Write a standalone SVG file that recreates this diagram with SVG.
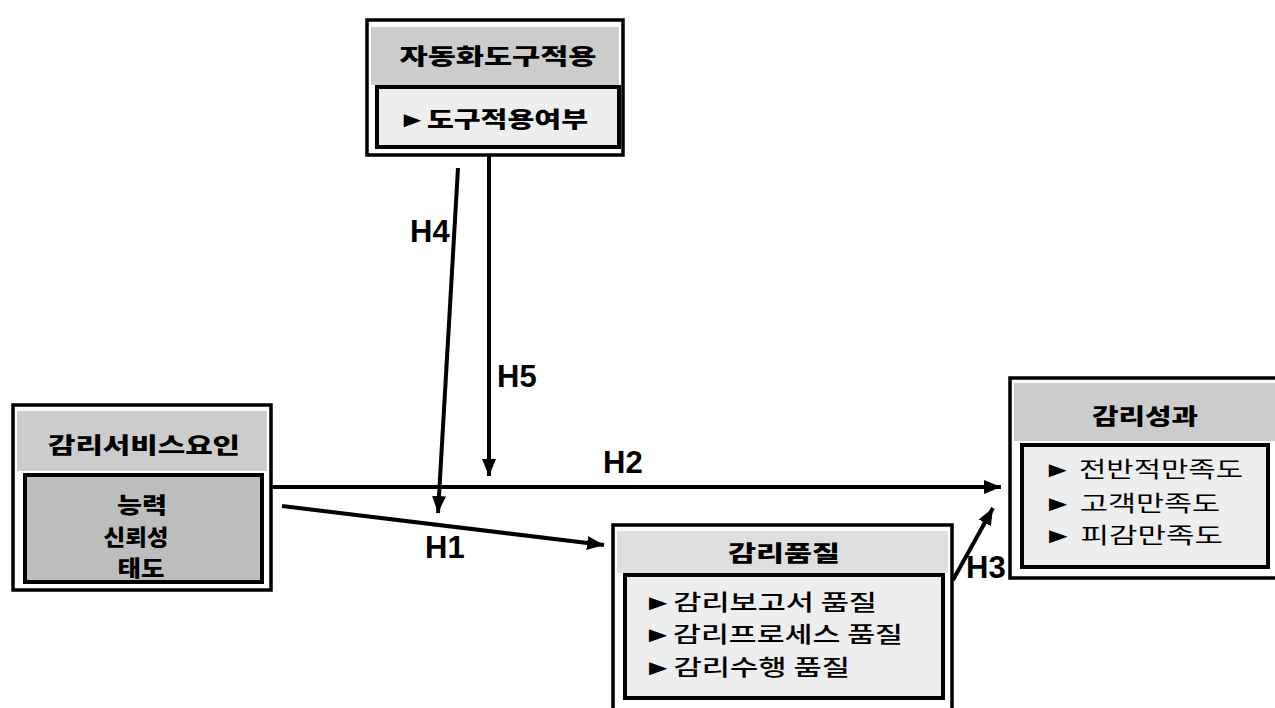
<svg xmlns="http://www.w3.org/2000/svg" width="1275" height="708" viewBox="0 0 1275 708">
  <style>
    .outer { fill: #ffffff; stroke: #000000; stroke-width: 3.5; }
    .band { fill: #cccccc; stroke: none; }
    .bandl { fill: #dedede; stroke: none; }
    .inner { fill: #eeeeee; stroke: #000000; stroke-width: 4; }
    .innerd { fill: #bdbdbd; stroke: #000000; stroke-width: 4; }
    .t { font-family: "Noto Sans CJK KR", "Noto Sans", sans-serif; font-weight: 900; font-size: 22px; fill: #000; dominant-baseline: central; }
    .tm { font-family: "Noto Sans CJK KR", "Noto Sans", sans-serif; font-weight: 500; font-size: 22px; fill: #000; dominant-baseline: central; }
    .tn { font-family: "Noto Sans CJK KR", "Noto Sans", sans-serif; font-weight: 400; font-size: 22px; fill: #000; dominant-baseline: central; }
    .h { font-family: "Liberation Sans", Arial, sans-serif; font-weight: 700; font-size: 31px; fill: #000; }
    .arr { stroke: #000; stroke-width: 4; fill: none; marker-end: url(#ah); }
  </style>
  <defs>
    <marker id="ah" markerUnits="userSpaceOnUse" markerWidth="18" markerHeight="16" refX="17" refY="8" orient="auto">
      <path d="M0,1 L17,8 L0,15 z" fill="#000"/>
    </marker>
  </defs>

  <g id="connectors">
    <line class="arr" x1="458" y1="168" x2="438" y2="513"/>
    <line class="arr" x1="489" y1="155" x2="489" y2="476"/>
    <line class="arr" x1="271" y1="487" x2="1001" y2="487"/>
    <line class="arr" x1="282" y1="506" x2="604" y2="545"/>
    <line class="arr" x1="953" y1="580" x2="993" y2="508"/>
    <text class="h" x="410" y="242">H4</text>
    <text class="h" x="497" y="387">H5</text>
    <text class="h" x="603" y="473">H2</text>
    <text class="h" x="425" y="558">H1</text>
    <text class="h" x="966" y="578">H3</text>
  </g>

  <g id="node-tool">
    <rect class="outer" x="367" y="20" width="256" height="135"/>
    <rect class="band" x="371" y="27" width="248" height="58"/>
    <rect class="inner" x="377" y="87" width="242" height="60"/>
    <text class="t" x="498" y="54" text-anchor="middle" textLength="197" lengthAdjust="spacingAndGlyphs">자동화도구적용</text>
    <text class="t" x="398" y="117" textLength="190" lengthAdjust="spacingAndGlyphs">►도구적용여부</text>
  </g>

  <g id="node-service">
    <rect class="outer" x="13" y="405" width="258" height="185"/>
    <rect class="band" x="17" y="411" width="250" height="60"/>
    <rect class="innerd" x="25" y="475" width="237" height="107"/>
    <text class="t" x="144" y="443" text-anchor="middle" textLength="192" lengthAdjust="spacingAndGlyphs">감리서비스요인</text>
    <text class="t" x="142" y="503" text-anchor="middle" textLength="50" lengthAdjust="spacingAndGlyphs">능력</text>
    <text class="t" x="136" y="535" text-anchor="middle" textLength="65" lengthAdjust="spacingAndGlyphs">신뢰성</text>
    <text class="t" x="141" y="566" text-anchor="middle" textLength="47" lengthAdjust="spacingAndGlyphs">태도</text>
  </g>

  <g id="node-quality">
    <rect class="outer" x="613" y="525" width="339" height="190"/>
    <rect class="bandl" x="617" y="531" width="331" height="42"/>
    <rect class="inner" x="625" y="575" width="318" height="123"/>
    <text class="t" x="784" y="551" text-anchor="middle" textLength="112" lengthAdjust="spacingAndGlyphs">감리품질</text>
    <text class="tm" x="643" y="600" textLength="234" lengthAdjust="spacingAndGlyphs">►감리보고서 품질</text>
    <text class="tm" x="643" y="632" textLength="260" lengthAdjust="spacingAndGlyphs">►감리프로세스 품질</text>
    <text class="tm" x="643" y="665" textLength="207" lengthAdjust="spacingAndGlyphs">►감리수행 품질</text>
  </g>

  <g id="node-performance">
    <rect class="outer" x="1010" y="378" width="280" height="200"/>
    <rect class="band" x="1014" y="383" width="262" height="58"/>
    <rect class="inner" x="1022" y="445" width="246" height="122"/>
    <text class="t" x="1145" y="414" text-anchor="middle" textLength="106" lengthAdjust="spacingAndGlyphs">감리성과</text>
    <text class="tn" x="1043" y="467" textLength="200" lengthAdjust="spacingAndGlyphs">► 전반적만족도</text>
    <text class="tn" x="1043" y="501" textLength="177" lengthAdjust="spacingAndGlyphs">► 고객만족도</text>
    <text class="tn" x="1043" y="533" textLength="180" lengthAdjust="spacingAndGlyphs">► 피감만족도</text>
  </g>
</svg>
